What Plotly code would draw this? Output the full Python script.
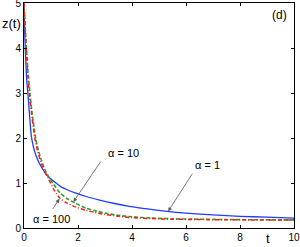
import plotly.graph_objects as go

# alpha = 1 (blue solid)
t_a1 = [0, 0.03, 0.06, 0.1, 0.15, 0.2, 0.27, 0.35, 0.45, 0.56, 0.7, 0.9, 1.1, 1.33, 1.6, 1.9,
        2.3, 2.8, 3.3, 3.9, 4.5, 5.3, 6, 7, 8, 9, 10]
z_a1 = [5.0, 4.3, 3.8, 3.3, 2.95, 2.55, 2.05, 1.8, 1.6, 1.45, 1.3, 1.14, 1.04, 0.93, 0.85, 0.78,
        0.70, 0.62, 0.55, 0.48, 0.43, 0.37, 0.33, 0.29, 0.26, 0.24, 0.22]

# alpha = 10 (green dashed)
t_a10 = [0, 0.05, 0.1, 0.15, 0.22, 0.3, 0.43, 0.5, 0.62, 0.75, 0.9, 1.1, 1.33, 1.6, 1.9, 2.3,
         2.6, 3, 3.5, 4, 4.7, 5.5, 6.5, 7.5, 8.5, 10]
z_a10 = [5.0, 4.4, 3.9, 3.45, 3.0, 2.55, 2.0, 1.8, 1.55, 1.33, 1.15, 0.97, 0.78, 0.65, 0.55, 0.44,
         0.39, 0.33, 0.28, 0.25, 0.22, 0.205, 0.195, 0.188, 0.183, 0.18]

# alpha = 100 (red dash-dot)
t_a100 = [0, 0.05, 0.1, 0.15, 0.2, 0.3, 0.4, 0.5, 0.62, 0.75, 0.9, 1.1, 1.33, 1.6, 1.9, 2.3,
          2.6, 3, 3.5, 4, 4.7, 5.5, 6.5, 7.5, 8.5, 10]
z_a100 = [5.0, 4.35, 3.8, 3.35, 2.95, 2.45, 2.0, 1.72, 1.47, 1.27, 1.1, 0.86, 0.66, 0.55, 0.47, 0.39,
          0.35, 0.30, 0.26, 0.23, 0.21, 0.195, 0.188, 0.183, 0.18, 0.177]

x_ticks = [0, 2, 4, 6, 8, 10]
y_ticks = [0, 1, 2, 3, 4, 5]

FONT = "Liberation Sans, Arial, sans-serif"

fig = go.Figure()
fig.add_trace(go.Scatter(x=t_a1, y=z_a1, mode="lines",
                         line=dict(color="#1f3cff", width=1.3, shape="spline", smoothing=0.6)))
fig.add_trace(go.Scatter(x=t_a10, y=z_a10, mode="lines",
                         line=dict(color="#2ca02c", width=1.6, dash="4px,2px", shape="spline", smoothing=0.6)))
fig.add_trace(go.Scatter(x=t_a100, y=z_a100, mode="lines",
                         line=dict(color="#ff1a1a", width=1.5, dash="4px,2px,1px,2px", shape="spline", smoothing=0.6)))

axis_common = dict(showline=True, linecolor="black", linewidth=1, mirror="ticks",
                   ticks="inside", ticklen=3, tickcolor="black", showgrid=False, zeroline=False,
                   automargin=False, ticklabeloverflow="allow",
                   tickfont=dict(family=FONT, size=10, color="black"))

fig.update_xaxes(range=[0, 10], tickvals=x_ticks, ticktext=[str(v) for v in x_ticks], **axis_common)
fig.update_yaxes(range=[0, 5], tickvals=y_ticks, ticktext=[str(v) for v in y_ticks],
                 ticklabelstandoff=0, **axis_common)

arrow_style = dict(showarrow=True, arrowhead=2, arrowsize=1, arrowwidth=0.8, arrowcolor="#555555",
                   axref="x", ayref="y", xref="x", yref="y", text="")
ann = [
    # arrows
    dict(x=1.83, y=0.58, ax=2.88, ay=1.51, **arrow_style),
    dict(x=1.31, y=0.65, ax=1.03, ay=0.39, **arrow_style),
    dict(x=5.34, y=0.37, ax=6.27, ay=1.24, **arrow_style),
    # texts
    dict(x=3.67, y=1.67, text="α = 10", showarrow=False, xref="x", yref="y",
         font=dict(family=FONT, size=11, color="black")),
    dict(x=1.03, y=0.19, text="α = 100", showarrow=False, xref="x", yref="y",
         font=dict(family=FONT, size=11, color="black")),
    dict(x=6.8, y=1.4, text="α = 1", showarrow=False, xref="x", yref="y",
         font=dict(family=FONT, size=11, color="black")),
    dict(x=9.48, y=4.73, text="(d)", showarrow=False, xref="x", yref="y",
         font=dict(family=FONT, size=12, color="black")),
    dict(x=-0.048, y=0.911, text="z(t)", showarrow=False, xref="paper", yref="paper",
         xanchor="center", yanchor="middle",
         font=dict(family=FONT, size=13, color="black")),
    dict(x=0.904, y=-0.048, text="t", showarrow=False, xref="paper", yref="paper",
         xanchor="center", yanchor="middle",
         font=dict(family=FONT, size=13, color="black")),
]
fig.update_layout(width=300, height=247, margin=dict(l=24, r=6, t=3, b=19),
                  paper_bgcolor="white", plot_bgcolor="white", showlegend=False,
                  annotations=ann)

fig.write_html("out.html", config={"displayModeBar": False},
               post_script="document.body.style.margin='0';document.body.style.overflow='hidden';")
